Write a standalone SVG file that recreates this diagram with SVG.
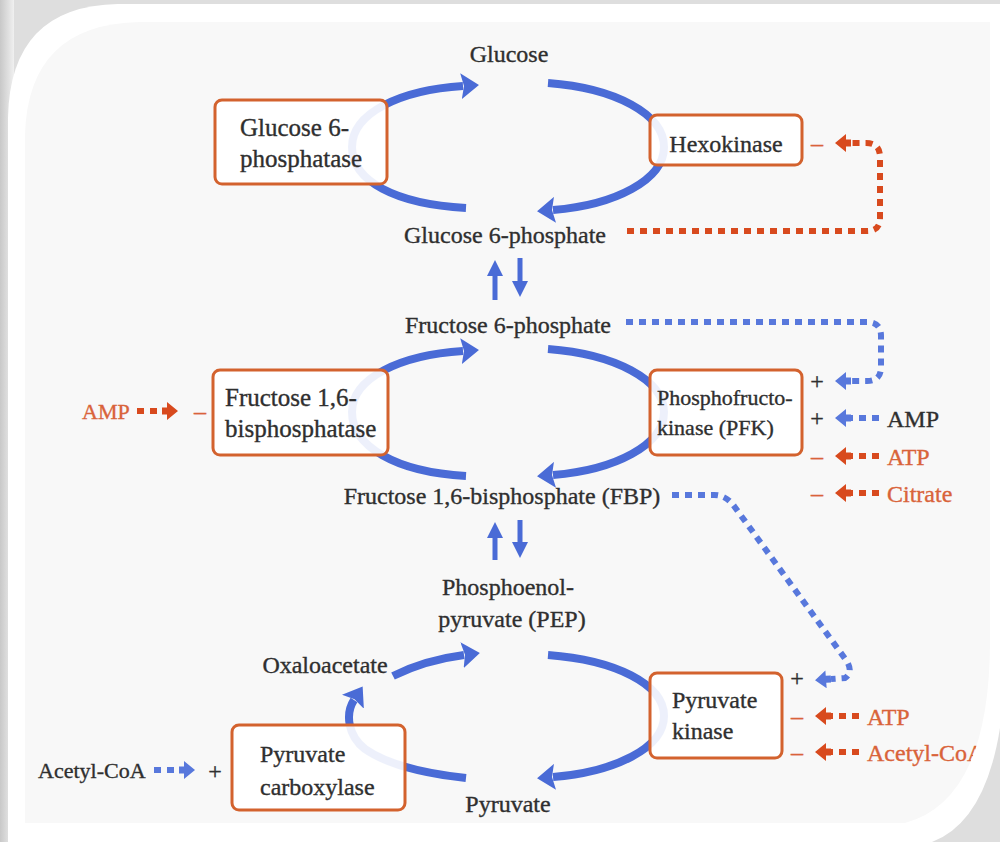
<svg xmlns="http://www.w3.org/2000/svg" width="1000" height="842" viewBox="0 0 1000 842">
<defs>
<style>
.t{font-family:"Liberation Serif","DejaVu Serif",serif;font-size:24px;fill:#2f2f2f;stroke:#2f2f2f;stroke-width:.35}
.s{font-size:22px}
.g{font-size:25px}
.o{fill:#d9633a;stroke:#d9633a}
.m{text-anchor:middle}
.box{fill:#fff;fill-opacity:.9;stroke:#d3622e;stroke-width:3}
.arc{fill:none;stroke:#4a6bd6;stroke-width:8}
.ah{marker-end:url(#hb)}
.v{fill:none;stroke:#4a6bd6;stroke-width:5;marker-end:url(#vb)}
.db{fill:none;stroke:#5878dc;stroke-width:6;stroke-dasharray:7 6;marker-end:url(#mdb)}
.dr{fill:none;stroke:#d84a1e;stroke-width:6;stroke-dasharray:7 6;marker-end:url(#mdr)}
</style>
<marker id="hb" markerUnits="userSpaceOnUse" viewBox="0 -13 18 26" refX="2" refY="0" markerWidth="18" markerHeight="26" orient="auto"><path d="M0,-13 L18,0 L0,13 L3,0 Z" fill="#4a6bd6"/></marker>
<marker id="vb" markerUnits="userSpaceOnUse" viewBox="0 -8 16 16" refX="1" refY="0" markerWidth="16" markerHeight="16" orient="auto"><path d="M0,-8 L16,0 L0,8 Z" fill="#4a6bd6"/></marker>
<marker id="mdb" markerUnits="userSpaceOnUse" viewBox="0 -9 17 18" refX="0" refY="0" markerWidth="17" markerHeight="18" orient="auto"><path d="M0,-3.5 L5,-3.5 L5,-9 L16,0 L5,9 L5,3.5 L0,3.5 Z" fill="#5878dc"/></marker>
<marker id="mdr" markerUnits="userSpaceOnUse" viewBox="0 -9 17 18" refX="0" refY="0" markerWidth="17" markerHeight="18" orient="auto"><path d="M0,-3.5 L5,-3.5 L5,-9 L16,0 L5,9 L5,3.5 L0,3.5 Z" fill="#d84a1e"/></marker>
<linearGradient id="ls" x1="0" x2="1" y1="0" y2="0"><stop offset="0" stop-color="#c8c8c8"/><stop offset="1" stop-color="#f0f0f0"/></linearGradient>
<clipPath id="cc"><path d="M25,823 L25,135 Q28,24 140,22 L990,22 L990,640 Q990,800 905,823 Z"/></clipPath>
</defs>
<g id="frame">
<rect width="1000" height="842" fill="#dedede"/>
<rect x="0" y="0" width="14" height="842" fill="url(#ls)"/>
<path d="M8,842 L8,118 Q10,6 118,4 L1000,4 L1000,728 Q985,822 932,842 Z" fill="#ffffff"/>
<path d="M25,823 L25,135 Q28,24 140,22 L990,22 L990,640 Q990,800 905,823 Z" fill="#f8f8f8"/>
</g>
<g id="connectors">
<path class="arc ah" d="M466,208 C395,204 352,181 352,147 C352,113 400,90 463,86"/>
<path class="arc ah" d="M548,83 C615,88 664,114 664,147 C664,180 615,205 553,210"/>
<path class="arc ah" d="M466,476 C395,472 352,446 352,412 C352,378 400,355 463,351"/>
<path class="arc ah" d="M548,349 C615,354 664,380 664,412 C664,445 615,470 553,475"/>
<path class="arc ah" d="M393,676 Q425,660 464,655"/>
<path class="arc ah" d="M548,655 C615,660 664,684 664,716 C664,748 615,772 553,777"/>
<path class="arc ah" d="M466,778 C420,773 385,763 365,749 C348,736 345,714 354,700"/>
<path class="v" d="M495,300 L495,275"/>
<path class="v" d="M520,258 L520,282"/>
<path class="v" d="M495,560 L495,537"/>
<path class="v" d="M520,520 L520,543"/>
<path class="dr" d="M627,231 L867,231 Q880,231 880,218 L880,157 Q880,143 866,143 L851,143"/>
<path class="db" d="M626,322 L867,322 Q881,322 881,336 L881,367 Q881,381 867,381 L851,381"/>
<path class="db" d="M879,418 L851,418"/>
<path class="dr" d="M879,456 L851,456"/>
<path class="dr" d="M879,493 L851,493"/>
<path class="dr" d="M137,411 L162,411"/>
<path class="db" d="M672,495 L714,495 Q726,495 734,506 L846,660 Q854,672 845,678 L831,679"/>
<path class="dr" d="M859,716 L831,716"/>
<path class="dr" d="M859,752 L831,752"/>
<path class="db" d="M154,770 L179,770"/>
</g>
<g id="glucose"><text class="t m" x="509" y="62">Glucose</text></g>
<g id="g6p"><text class="t m" x="505" y="243">Glucose 6-phosphate</text></g>
<g id="f6p"><text class="t m" x="508" y="333">Fructose 6-phosphate</text></g>
<g id="fbp"><text class="t m" x="502" y="504">Fructose 1,6-bisphosphate (FBP)</text></g>
<g id="pep"><text class="t m" x="508" y="595">Phosphoenol-</text><text class="t m" x="512" y="627">pyruvate (PEP)</text></g>
<g id="oxaloacetate"><text class="t m" x="325" y="673">Oxaloacetate</text></g>
<g id="pyruvate"><text class="t m" x="508" y="812">Pyruvate</text></g>
<g id="g6pase"><rect class="box" x="215" y="100" width="172" height="84" rx="7"/><text class="t g" x="240" y="136">Glucose 6-</text><text class="t g" x="240" y="167">phosphatase</text></g>
<g id="hexokinase"><rect class="box" x="650" y="115" width="152" height="50" rx="7"/><text class="t m" x="726" y="152">Hexokinase</text><text class="t o m" x="817" y="151">–</text></g>
<g id="fbpase"><rect class="box" x="213" y="370" width="175" height="85" rx="7"/><text class="t g" x="225" y="406">Fructose 1,6-</text><text class="t g" x="225" y="437">bisphosphatase</text></g>
<g id="pfk"><rect class="box" x="650" y="370" width="152" height="85" rx="7"/><text class="t s" x="657" y="405">Phosphofructo-</text><text class="t s" x="657" y="435">kinase (PFK)</text>
<text class="t m" x="817" y="389">+</text><text class="t m" x="817" y="426">+</text><text class="t o m" x="817" y="464">–</text><text class="t o m" x="817" y="501">–</text></g>
<g id="pk"><rect class="box" x="650" y="673" width="132" height="85" rx="7"/><text class="t" x="672" y="708">Pyruvate</text><text class="t" x="672" y="739">kinase</text>
<text class="t m" x="797" y="686">+</text><text class="t o m" x="797" y="724">–</text><text class="t o m" x="797" y="760">–</text></g>
<g id="pc"><rect class="box" x="232" y="725" width="173" height="85" rx="7"/><text class="t" x="260" y="762">Pyruvate</text><text class="t" x="260" y="795">carboxylase</text><text class="t m" x="215" y="779">+</text></g>
<g id="amp-left"><text class="t s o" x="82" y="419">AMP</text><text class="t o m" x="200" y="419">–</text></g>
<g id="amp-right"><text class="t" x="887" y="427">AMP</text></g>
<g id="atp-pfk"><text class="t o" x="887" y="465">ATP</text></g>
<g id="citrate"><text class="t o" x="887" y="502">Citrate</text></g>
<g id="atp-pk"><text class="t o" x="867" y="725">ATP</text></g>
<g id="acetylcoa-pk"><text class="t o" x="867" y="761" clip-path="url(#cc)">Acetyl-CoA</text></g>
<g id="acetylcoa-pc"><text class="t s" x="38" y="778">Acetyl-CoA</text></g>
</svg>
